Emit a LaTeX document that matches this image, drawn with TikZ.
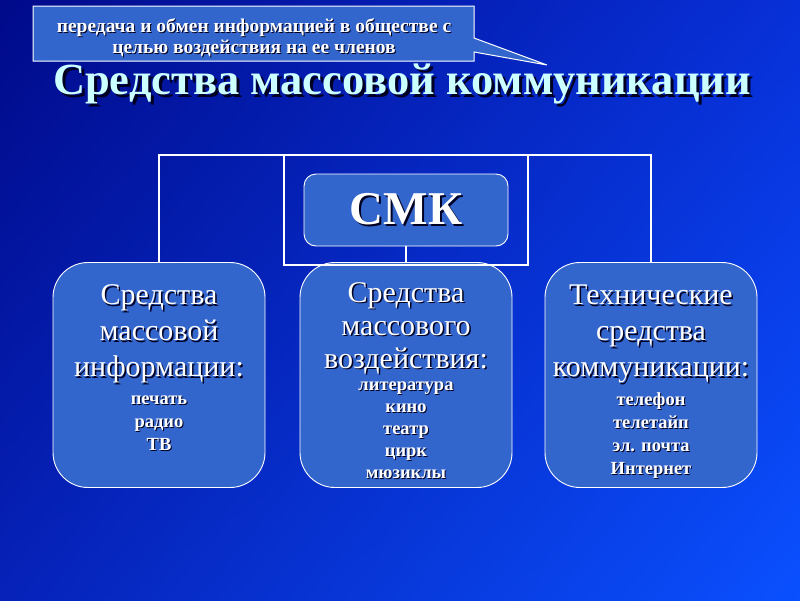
\documentclass[tikz,border=0pt]{standalone}
\usepackage{fontspec}
\setmainfont{Liberation Serif}
\usetikzlibrary{shadings}
\definecolor{boxblue}{HTML}{3366CC}
\definecolor{titlecyan}{HTML}{CCFFFF}
\definecolor{bgA}{HTML}{000A8A}
\definecolor{bgB}{HTML}{0830D8}
\definecolor{bgC}{HTML}{0622B8}
\definecolor{bgD}{HTML}{0A50FF}
\definecolor{shadowc}{HTML}{000022}
\newcommand\shtxt[2][1.5pt]{\makebox[0pt][l]{\hspace{#1}\raisebox{-#1}{\color{shadowc}#2}}#2}
\tikzset{
  conn/.style={draw=white, line width=1.4pt},
  bigbox/.style={draw=white, line width=0.9pt, fill=boxblue, rounded corners=35pt, minimum width=212pt, minimum height=225pt, inner sep=0pt},
  smkbox/.style={draw=white, line width=0.9pt, fill=boxblue, rounded corners=12pt, minimum width=204pt, minimum height=72pt, inner sep=0pt, text=white, font=\bfseries\fontsize{47}{50}\selectfont},
  headtxt/.style={align=center, inner sep=0pt, text=white},
  itemtxt/.style={align=center, inner sep=0pt, text=white},
  calltxt/.style={align=center, inner sep=0pt, text=white, font=\bfseries\fontsize{19.5}{21}\selectfont},
  titletxt/.style={inner sep=0pt, text=titlecyan, font=\bfseries\fontsize{44.5}{50}\selectfont}
}
\begin{document}
\begin{tikzpicture}[x=1pt,y=-1pt]
\useasboundingbox (0,0) rectangle (800,600);
\shade[upper left=bgA, upper right=bgB, lower left=bgC, lower right=bgD] (0,0) rectangle (800,600);

% callout
\draw[white, line width=1pt, fill=boxblue] (33,6) -- (474,6) -- (474,38) -- (547,65) -- (474,52) -- (474,61) -- (33,61) -- cycle;
\node[calltxt] (ctext) at (254,38) {\shtxt[1pt]{передача и обмен информацией в обществе с}\\\shtxt[1pt]{целью воздействия на ее членов}};

% title
\node[titletxt, anchor=base] (title) at (402,94) {\shtxt[3pt]{Средства массовой коммуникации}};

% boxes
\node[smkbox] (cmk) at (406,210) {\shtxt[2pt]{СМК}};
\node[bigbox] (lbox) at (159,375) {};
\node[bigbox] (mbox) at (406,375) {};
\node[bigbox] (rbox) at (651,375) {};

% connectors
\coordinate (tl) at (159,155);
\coordinate (tr) at (651,155);
\coordinate (il) at (284,155);
\coordinate (ir) at (528,155);
\coordinate (ibl) at (284,265);
\coordinate (ibr) at (528,265);
\draw[conn] (lbox.north) -- (tl) -- (tr) -- (rbox.north);
\draw[conn] (il) -- (ibl) -- (ibr) -- (ir);
\draw[conn] (cmk.south) -- (mbox.north);

% texts
\node[headtxt, font=\fontsize{30}{36}\selectfont] (lhead) at (159,335) {\shtxt{Средства}\\\shtxt{массовой}\\\shtxt{информации:}};
\node[itemtxt, font=\bfseries\fontsize{18.5}{23}\selectfont] (litems) at (159,424) {\shtxt[1pt]{печать}\\\shtxt[1pt]{радио}\\\shtxt[1pt]{ТВ}};

\node[headtxt, font=\fontsize{30}{33}\selectfont] (mhead) at (406,329) {\shtxt{Средства}\\\shtxt{массового}\\\shtxt{воздействия:}};
\node[itemtxt, font=\bfseries\fontsize{18.5}{22}\selectfont] (mitems) at (406,431) {\shtxt[1pt]{литература}\\\shtxt[1pt]{кино}\\\shtxt[1pt]{театр}\\\shtxt[1pt]{цирк}\\\shtxt[1pt]{мюзиклы}};

\node[headtxt, font=\fontsize{30}{36}\selectfont] (rhead) at (651,335) {\shtxt{Технические}\\\shtxt{средства}\\\shtxt{коммуникации:}};
\node[itemtxt, font=\bfseries\fontsize{18.5}{23.3}\selectfont] (ritems) at (651,436) {\shtxt[1pt]{телефон}\\\shtxt[1pt]{телетайп}\\\shtxt[1pt]{эл. почта}\\\shtxt[1pt]{Интернет}};
\end{tikzpicture}
\end{document}
